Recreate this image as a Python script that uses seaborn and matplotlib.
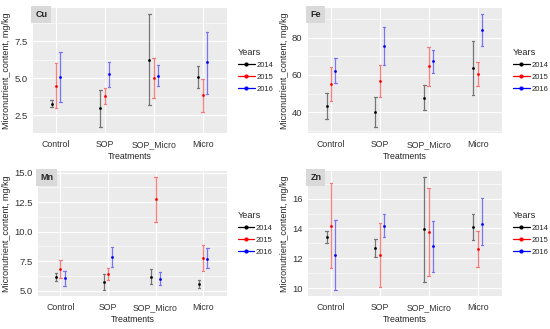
import matplotlib
matplotlib.use("Agg")
import matplotlib.pyplot as plt
from matplotlib.lines import Line2D
from matplotlib.ticker import AutoMinorLocator
import seaborn as sns
import pandas as pd

treatments = ["Control", "SOP", "SOP_Micro", "Micro"]
years = ["2014", "2015", "2016"]
colors = ["black", "red", "blue"]

# rows = years (2014, 2015, 2016), columns = treatments
cu_mean = [[3.27, 2.98, 6.27, 5.09], [4.49, 3.78, 5.00, 3.87], [5.09, 5.29, 5.18, 6.07]]
cu_low = [[3.07, 1.67, 3.18, 4.33], [2.98, 3.22, 3.64, 2.73], [3.42, 4.38, 4.47, 3.93]]
cu_high = [[3.51, 4.20, 9.38, 5.84], [6.02, 4.31, 6.38, 4.98], [6.78, 6.13, 5.93, 8.16]]

fe_mean = [[43.3, 39.9, 47.9, 63.9], [55.2, 56.6, 64.8, 60.5], [62.1, 75.6, 67.3, 84.2]]
fe_low = [[36.4, 31.9, 41.2, 49.5], [46.1, 48.3, 54.3, 54.0], [55.7, 65.3, 61.2, 75.3]]
fe_high = [[50.2, 48.1, 54.7, 78.5], [64.4, 65.2, 75.1, 67.1], [68.9, 85.8, 73.2, 92.9]]

mn_mean = [[6.19, 5.74, 6.19, 5.57], [6.82, 6.42, 12.78, 7.76], [6.05, 7.87, 6.02, 7.70]]
mn_low = [[5.82, 5.03, 5.57, 5.23], [6.05, 5.88, 10.85, 6.65], [5.43, 7.02, 5.48, 6.88]]
mn_high = [[6.48, 6.42, 6.82, 5.88], [7.59, 6.90, 14.66, 8.89], [6.65, 8.72, 6.56, 8.58]]

zn_mean = [[13.44, 12.72, 13.96, 14.09], [14.20, 12.23, 13.78, 12.63], [12.25, 14.20, 12.84, 14.31]]
zn_low = [[13.06, 12.10, 10.42, 13.24], [11.38, 10.08, 10.84, 11.42], [9.86, 13.40, 11.11, 12.90]]
zn_high = [[13.80, 13.31, 17.47, 14.94], [17.05, 14.36, 16.71, 13.82], [14.58, 14.99, 14.52, 16.04]]

panels = [
    ("Cu", cu_mean, cu_low, cu_high, [2.5, 5.0, 7.5], ["2.5", "5.0", "7.5"]),
    ("Fe", fe_mean, fe_low, fe_high, [40, 60, 80], ["40", "60", "80"]),
    ("Mn", mn_mean, mn_low, mn_high, [5.0, 7.5, 10.0, 12.5, 15.0], ["5.0", "7.5", "10.0", "12.5", "15.0"]),
    ("Zn", zn_mean, zn_low, zn_high, [10, 12, 14, 16], ["10", "12", "14", "16"]),
]

positions = [
    [33 / 550, 1 - 133 / 329, 194 / 550, 125 / 329],
    [308 / 550, 1 - 133 / 329, 194 / 550, 125 / 329],
    [38 / 550, 1 - 296 / 329, 189 / 550, 125 / 329],
    [308 / 550, 1 - 296 / 329, 194 / 550, 125 / 329],
]

sns.set_theme(style="darkgrid")
plt.rcParams["font.family"] = ["Liberation Sans", "DejaVu Sans"]

fig = plt.figure(figsize=(5.5, 3.29), dpi=100)

for (name, mean, low, high, ticks, ticklabels), pos in zip(panels, positions):
    rows = []
    for yi, yr in enumerate(years):
        for ti, tr in enumerate(treatments):
            for v in (low[yi][ti], mean[yi][ti], high[yi][ti]):
                rows.append({"Treatments": tr, "Years": yr, "value": v})
    df = pd.DataFrame(rows)

    ax = fig.add_axes(pos)
    ax.set_facecolor("#ebebeb")
    sns.pointplot(data=df, x="Treatments", y="value", hue="Years",
                  order=treatments, hue_order=years, palette=colors,
                  estimator="median", errorbar=lambda x: (x.min(), x.max()),
                  dodge=0.18, linestyle="none", markers="o",
                  capsize=0.05, err_kws={"linewidth": 0.9, "alpha": 0.5},
                  legend=False, ax=ax)
    for ln in ax.lines:
        ln.set_markersize(2)
        ln.set_markeredgewidth(0)

    ax.set_xlim(-0.47, 3.5)
    ax.margins(y=0.05)
    ax.set_yticks(ticks)
    ax.set_yticklabels(ticklabels)
    ax.yaxis.set_minor_locator(AutoMinorLocator(2))
    ax.grid(which="major", color="white", linewidth=0.8)
    ax.grid(which="minor", axis="y", color="white", linewidth=0.4)
    for s in ax.spines.values():
        s.set_visible(False)
    ax.tick_params(axis="both", which="both", length=2, pad=2,
                   labelsize=6.8, colors="#333333")
    ax.tick_params(axis="x", pad=3, labelsize=6.3)
    ax.tick_params(which="minor", length=0)
    ax.set_xlabel("Treatments", fontsize=6.3, labelpad=2.5)
    ax.set_ylabel("Micronutrient_content, mg/kg", fontsize=6.5, labelpad=2)

    ax.text(0.012, 0.985, name, transform=ax.transAxes, ha="left", va="top",
            fontsize=6.5, fontweight="bold",
            bbox=dict(facecolor="#d9d9d9", edgecolor="none", boxstyle="square,pad=0.45"))

    handles = [Line2D([0], [0], color=c, marker="o", markersize=2, linewidth=0.9)
               for c in colors]
    leg = ax.legend(handles, years, title="Years", loc="center left",
                    bbox_to_anchor=(1.02, 0.5), frameon=False, fontsize=5.5,
                    title_fontsize=6.6, handlelength=2.2, handletextpad=0.2,
                    labelspacing=0.6)
    leg._legend_box.align = "left"

fig.savefig("out.png", dpi=100)
